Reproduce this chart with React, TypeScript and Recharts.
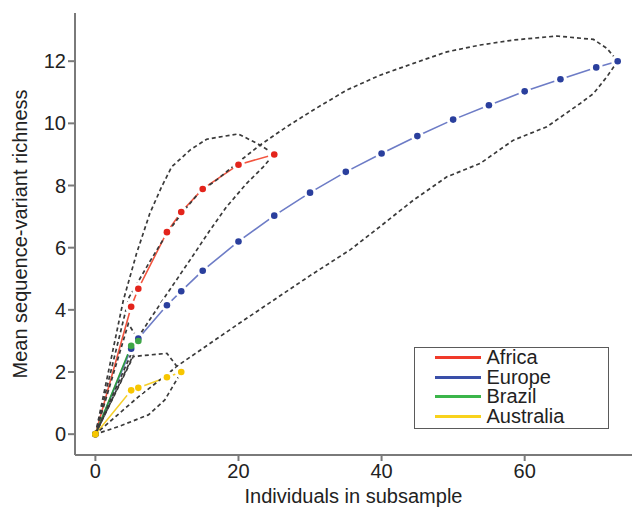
import React from 'react';
import { LineChart, Line, XAxis, YAxis, Legend } from 'recharts';

// ---- Data ----
const africaX = [0, 5, 6, 10, 12, 15, 20, 25];
const africaY = [0, 4.1, 4.68, 6.5, 7.15, 7.89, 8.67, 9.0];

const europeX = [0, 5, 6, 10, 12, 15, 20, 25, 30, 35, 40, 45, 50, 55, 60, 65, 70, 73];
const europeY = [0, 2.75, 3.08, 4.15, 4.6, 5.26, 6.2, 7.03, 7.77, 8.44, 9.03, 9.59, 10.12, 10.58, 11.03, 11.42, 11.8, 12.0];

const brazilX = [0, 5, 6];
const brazilY = [0, 2.84, 3.0];

const australiaX = [0, 5, 6, 10, 12];
const australiaY = [0, 1.41, 1.49, 1.83, 2.0];

// Dashed envelopes (closed outlines) as [x, y] pairs
const africaEnvelope: [number, number][] = [
  [0, 0], [3.9, 4.3], [5.76, 5.82], [7.62, 7.11], [9.26, 7.96], [10.66, 8.6], [13.22, 9.14],
  [15.55, 9.49], [19.97, 9.66], [22.55, 9.36], [25, 9.02], [23.47, 8.6], [21.15, 8.07],
  [18.35, 7.32], [16.01, 6.56], [13.22, 5.6], [9.96, 4.5], [6.2, 3.2], [0, 0],
];
const europeEnvelope: [number, number][] = [
  [0, 0], [4.7, 4.4], [7.6, 5.55], [10, 6.46], [12.05, 7.1], [14.6, 7.8], [16.95, 8.18],
  [19.75, 8.71], [23.01, 9.3], [26.74, 9.89], [30.46, 10.43], [35.13, 11.07], [39.79, 11.55],
  [44.45, 11.93], [49.12, 12.3], [53.78, 12.52], [58.43, 12.68], [64.5, 12.81], [69.62, 12.7],
  [71.5, 12.41], [73, 12.0], [71.5, 11.5], [69.62, 10.96], [67.76, 10.64], [63.1, 9.89],
  [58.43, 9.46], [53.78, 8.71], [49.12, 8.28], [44.45, 7.53], [39.79, 6.68], [35.6, 5.93],
  [30, 5.1], [20, 3.55], [11.8, 2.25], [6, 1.2], [0, 0],
];
const brazilEnvelope: [number, number][] = [
  [0, 0], [4.6, 3.55], [6, 3.05], [5.2, 2.5], [0, 0],
];
const australiaEnvelope: [number, number][] = [
  [0, 0], [5.3, 2.5], [10, 2.6], [12, 2.0], [9.7, 1.1], [7.4, 0.62], [3.2, 0.24], [0, 0],
];

const xTicks = [0, 20, 40, 60];
const yTicks = [0, 2, 4, 6, 8, 10, 12];

const legendNames = ['Africa', 'Europe', 'Brazil', 'Australia'];
const legendColors = ['#f03a2a', '#3a4fa8', '#3bb54a', '#f8d21c'];

// ---- helpers ----
const toPoints = (xs: number[], ys: number[]) => xs.map((x, i) => ({ x, y: ys[i] }));
const envToPoints = (env: [number, number][]) => env.map(([x, y]) => ({ x, y }));

const series = [
  { name: 'Europe', data: toPoints(europeX, europeY), line: '#6d7cc6', dot: '#2a3f9d' },
  { name: 'Africa', data: toPoints(africaX, africaY), line: '#f2553f', dot: '#e3241b' },
  { name: 'Brazil', data: toPoints(brazilX, brazilY), line: '#2e9a3e', dot: '#3ea646' },
  { name: 'Australia', data: toPoints(australiaX, australiaY), line: '#f5cf2a', dot: '#f7c600' },
];

const envelopes = [
  { name: 'envAfrica', data: envToPoints(africaEnvelope) },
  { name: 'envEurope', data: envToPoints(europeEnvelope) },
  { name: 'envBrazil', data: envToPoints(brazilEnvelope) },
  { name: 'envAustralia', data: envToPoints(australiaEnvelope) },
];

const FONT = '"Liberation Sans", Arial, Helvetica, sans-serif';

const haloDot = (props: any) =>
  props.index === 0 ? (
    <g key={`h-${props.index}`} />
  ) : (
    <circle key={`h-${props.index}`} cx={props.cx} cy={props.cy} r={6.5} fill="#ffffff" />
  );
const makeDot = (color: string) => (props: any) => (
  <circle key={`d-${props.index}`} cx={props.cx} cy={props.cy} r={3.3} fill={color} />
);

const LegendBox = () => (
  <div
    style={{
      width: 195,
      height: 82,
      boxSizing: 'border-box',
      border: '1.5px solid #5a5a5a',
      background: '#ffffff',
      fontFamily: FONT,
      fontSize: 20,
      color: '#222',
    }}
  >
    {legendNames.map((n, i) => (
      <div key={n} style={{ height: 19.6, lineHeight: '19.6px', display: 'flex', alignItems: 'center' }}>
        <div style={{ marginLeft: 19.5, width: 46, height: 3, background: legendColors[i] }} />
        <span style={{ marginLeft: 6 }}>{n}</span>
      </div>
    ))}
  </div>
);

export default function App() {
  return (
    <div style={{ position: 'absolute', left: 0, top: 0, width: 633, height: 510, background: '#fff' }}>
      <LineChart width={633} height={510} margin={{ top: 13, right: 1, bottom: 0, left: 0 }}>
        <XAxis
          type="number"
          dataKey="x"
          domain={[-2.85, 75]}
          allowDataOverflow
          ticks={xTicks}
          height={55}
          tickSize={6}
          tickMargin={3}
          stroke="#7a7a7a"
          strokeWidth={2}
          tick={{ fontSize: 20, fill: '#222', fontFamily: FONT }}
          label={{
            value: 'Individuals in subsample',
            position: 'insideBottom',
            offset: 7,
            style: { fontSize: 20, fill: '#222', fontFamily: FONT },
          }}
        />
        <YAxis
          type="number"
          dataKey="y"
          domain={[-0.67, 13.55]}
          allowDataOverflow
          ticks={yTicks}
          width={75}
          tickSize={7}
          tickMargin={2}
          stroke="#7a7a7a"
          strokeWidth={2}
          tick={{ fontSize: 20, fill: '#222', fontFamily: FONT }}
          label={{
            value: 'Mean sequence-variant richness',
            angle: -90,
            position: 'center',
            dx: -18,
            style: { fontSize: 20, fill: '#222', fontFamily: FONT, textAnchor: 'middle' },
          }}
        />
        {series.map((s) => (
          <Line
            key={`line-${s.name}`}
            data={s.data}
            dataKey="y"
            type="linear"
            stroke={s.line}
            strokeWidth={1.6}
            dot={haloDot}
            activeDot={false}
            legendType="none"
            isAnimationActive={false}
          />
        ))}
        {envelopes.map((e) => (
          <Line
            key={e.name}
            data={e.data}
            dataKey="y"
            type="linear"
            stroke="#3a3a3a"
            strokeWidth={1.7}
            strokeDasharray="4 3"
            dot={false}
            activeDot={false}
            legendType="none"
            isAnimationActive={false}
          />
        ))}
        {series.map((s) => (
          <Line
            key={`dots-${s.name}`}
            name={s.name}
            data={s.data}
            dataKey="y"
            type="linear"
            stroke="none"
            dot={makeDot(s.dot)}
            activeDot={false}
            isAnimationActive={false}
          />
        ))}
        <Legend
          layout="horizontal"
          verticalAlign="middle"
          align="center"
          wrapperStyle={{ position: 'absolute', left: 414, top: 347, width: 195, height: 82 }}
          content={() => <LegendBox />}
        />
      </LineChart>
    </div>
  );
}
